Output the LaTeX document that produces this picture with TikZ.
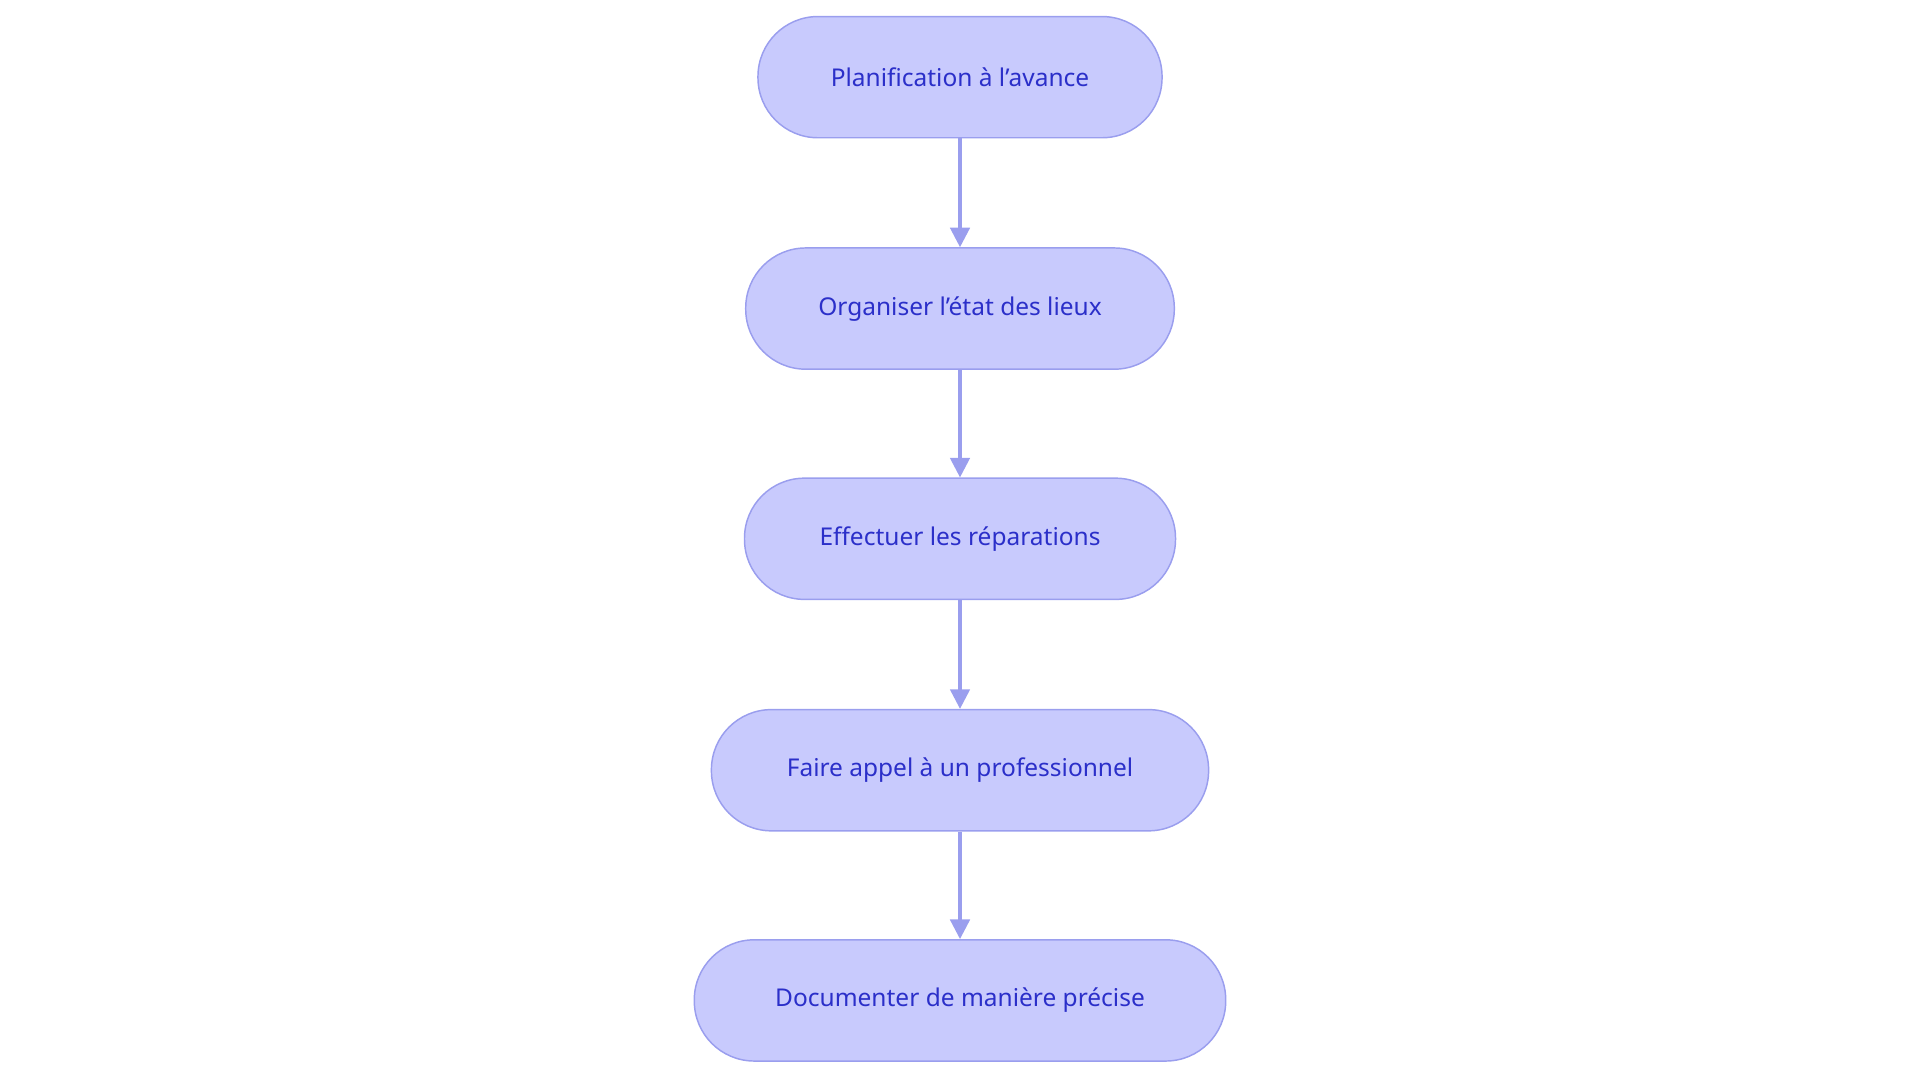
\documentclass[tikz,border=0pt]{standalone}
\usepackage{fontspec}
\setmainfont{Noto Sans}
\usetikzlibrary{positioning,arrows.meta}
\definecolor{stepfill}{HTML}{C8CAFD}
\definecolor{stepline}{HTML}{9A9EEE}
\definecolor{steptext}{HTML}{2B2FC9}
\begin{document}
\begin{tikzpicture}[x=1pt,y=-1pt,
  stage/.style={draw=stepline, line width=1.2pt, fill=stepfill, text=steptext,
    rounded corners=49pt, minimum height=99pt, inner xsep=35pt, font=\fontsize{20}{24}\selectfont},
  flow/.style={draw=stepline, line width=2.5pt, -{Triangle[length=16pt,width=16pt]}}]
\useasboundingbox (0,0) rectangle (1568,884);
% steps of the procedure
\node[stage, minimum width=330pt] (plan) at (784,63) {Planification à l'avance};
\node[stage, minimum width=350pt] (etat) at (784,252) {Organiser l'état des lieux};
\node[stage, minimum width=352pt] (repa) at (784,440) {Effectuer les réparations};
\node[stage, minimum width=406pt] (pro) at (784,629) {Faire appel à un professionnel};
\node[stage, minimum width=434pt] (doc) at (784,817) {Documenter de manière précise};
% connectors
\draw[flow] (plan) -- (etat);
\draw[flow] (etat) -- (repa);
\draw[flow] (repa) -- (pro);
\draw[flow] (pro) -- (doc);
\end{tikzpicture}
\end{document}
